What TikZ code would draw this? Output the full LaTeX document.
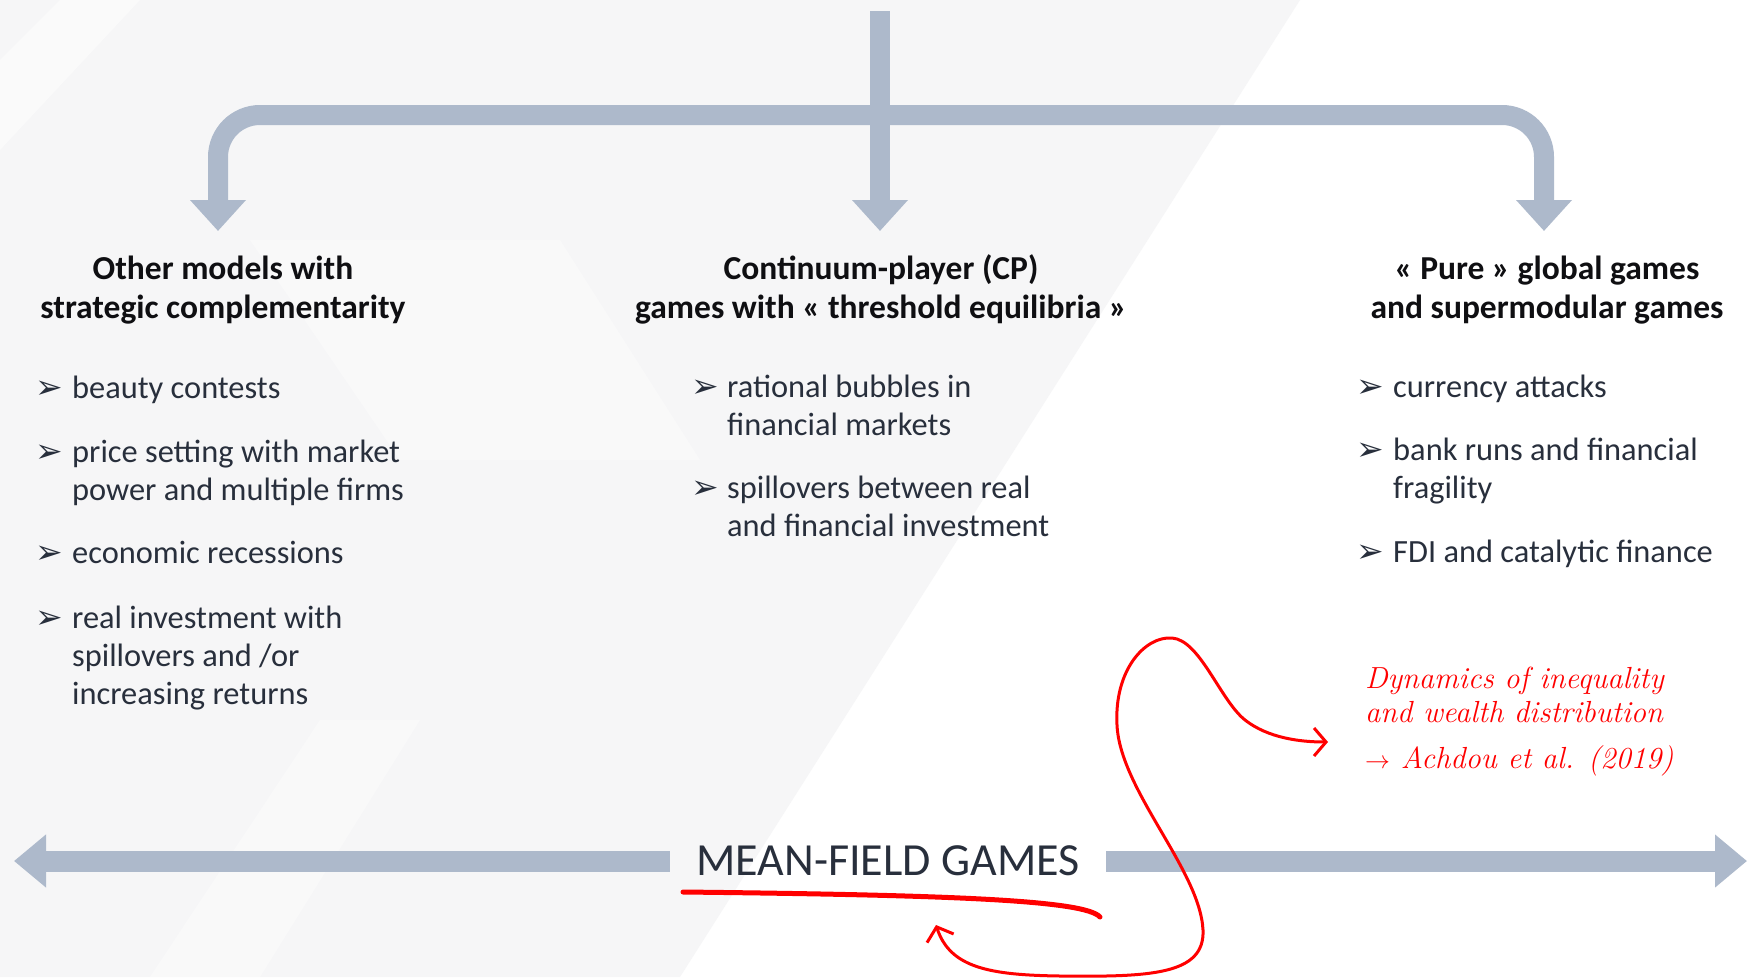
\documentclass[tikz,border=0pt]{standalone}
\usepackage{fontspec}
\usetikzlibrary{arrows.meta}
\newfontfamily\bodyfont{Carlito}
\newfontfamily\symfont{DejaVu Sans}
\definecolor{arrowgrey}{RGB}{173,185,203}
\definecolor{inkdark}{RGB}{40,47,60}
\definecolor{headink}{RGB}{15,15,18}
\definecolor{pen}{RGB}{255,0,0}
\definecolor{paper}{RGB}{246,246,247}

\tikzset{
  flow/.style={draw=arrowgrey, line width=20pt, rounded corners=42pt,
    -{Triangle[width=54pt,length=31pt]}},
  bar/.style={draw=arrowgrey, line width=21pt,
    -{Triangle[width=51pt,length=32pt]}},
  header/.style={inner sep=0pt, align=center, text=headink,
    font=\bodyfont\bfseries\fontsize{33.5}{39}\selectfont},
  item/.style={inner sep=0pt, align=left, text=inkdark,
    font=\bodyfont\fontsize{32.4}{38}\selectfont},
  tick/.style={inner sep=0pt, text=inkdark,
    font=\symfont\fontsize{33}{33}\selectfont},
  note/.style={inner sep=0pt, align=left, text=pen,
    font=\itshape\fontsize{30.5}{34}\selectfont},
  penline/.style={draw=pen, line width=3pt, line cap=round},
}

\begin{document}
\begin{tikzpicture}[x=1pt, y=-1pt]
\useasboundingbox (0,0) rectangle (1747,977);

% background with faint diagonal bands
\fill[white] (0,0) rectangle (1747,977);
\fill[paper] (0,0) -- (1300,0) -- (680,977) -- (0,977) -- cycle;
\fill[white, opacity=0.45] (0,60) -- (60,0) -- (140,0) -- (0,150) -- cycle;
\fill[white, opacity=0.35] (250,240) -- (560,240) -- (700,460) -- (400,460) -- cycle;
\fill[white, opacity=0.35] (150,977) -- (320,720) -- (420,720) -- (260,977) -- cycle;

% tree of arrows at the top
\coordinate (root) at (880,11);
\coordinate (hub)  at (880,115);
\coordinate (tipL) at (218,231);
\coordinate (tipM) at (880,231);
\coordinate (tipR) at (1544,231);
\draw[flow] (hub) -| (tipL);
\draw[flow] (hub) -| (tipR);
\draw[flow] (root) -- (tipM);

% column headers (anchored on the baseline of their last line)
\node[header, anchor=base] (hdrL) at (223,318) {Other models with\\strategic complementarity};
\node[header, anchor=base] (hdrM) at (881,318) {Continuum-player (CP)\\games with « threshold equilibria »};
\node[header, anchor=base] (hdrR) at (1547,318) {« Pure » global games\\and supermodular games};

% left column
\node[tick, anchor=base west] (tL1) at (35,398) {➢};
\node[item, anchor=base west] (iL1) at (72,398) {beauty contests};
\node[tick, anchor=base west] (tL2) at (35,462) {➢};
\node[item, anchor=base west] (iL2) at (72,500) {price setting with market\\power and multiple firms};
\node[tick, anchor=base west] (tL3) at (35,563) {➢};
\node[item, anchor=base west] (iL3) at (72,563) {economic recessions};
\node[tick, anchor=base west] (tL4) at (35,628) {➢};
\node[item, anchor=base west] (iL4) at (72,704) {real investment with\\spillovers and /or\\increasing returns};

% middle column
\node[tick, anchor=base west] (tM1) at (691,397) {➢};
\node[item, anchor=base west] (iM1) at (727,435) {rational bubbles in\\financial markets};
\node[tick, anchor=base west] (tM2) at (691,498) {➢};
\node[item, anchor=base west] (iM2) at (727,536) {spillovers between real\\and financial investment};

% right column
\node[tick, anchor=base west] (tR1) at (1356,397) {➢};
\node[item, anchor=base west] (iR1) at (1393,397) {currency attacks};
\node[tick, anchor=base west] (tR2) at (1356,460) {➢};
\node[item, anchor=base west] (iR2) at (1393,498) {bank runs and financial\\fragility};
\node[tick, anchor=base west] (tR3) at (1356,562) {➢};
\node[item, anchor=base west] (iR3) at (1393,562) {FDI and catalytic finance};

% mean-field games axis
\node[inner sep=0pt, minimum width=436pt, minimum height=40pt, text=inkdark,
      font=\bodyfont\fontsize{46}{46}\selectfont] (mfg) at (888,861) {MEAN-FIELD GAMES};
\coordinate (axL) at (14,861);
\coordinate (axR) at (1747,861);
\draw[bar] (mfg.west) -- (axL);
\draw[bar] (mfg.east) -- (axR);

% handwritten annotation
\node[note, anchor=base west] (note) at (1365,768)
  {Dynamics of inequality\\and wealth distribution\\[12pt]$\rightarrow$ Achdou et al. (2019)};

\coordinate (ulA) at (683,892);
\coordinate (ulB) at (1100,917);
\draw[penline, line width=5pt] (ulA) .. controls (950,895) and (1085,900) .. (ulB);

\coordinate (ulTip) at (936,925);
\coordinate (noteIn) at (1328,742);
\draw[penline, {Straight Barb[length=12pt,width=28pt]}-{Straight Barb[length=12pt,width=28pt]}]
  (ulTip) .. controls (950,968) and (990,975) .. (1060,976)
  .. controls (1150,977) and (1205,975) .. (1203,930)
  .. controls (1200,870) and (1120,790) .. (1117,725)
  .. controls (1114,670) and (1145,636) .. (1172,638)
  .. controls (1200,640) and (1220,700) .. (1245,720)
  .. controls (1268,738) and (1300,742) .. (noteIn);
\end{tikzpicture}
\end{document}
